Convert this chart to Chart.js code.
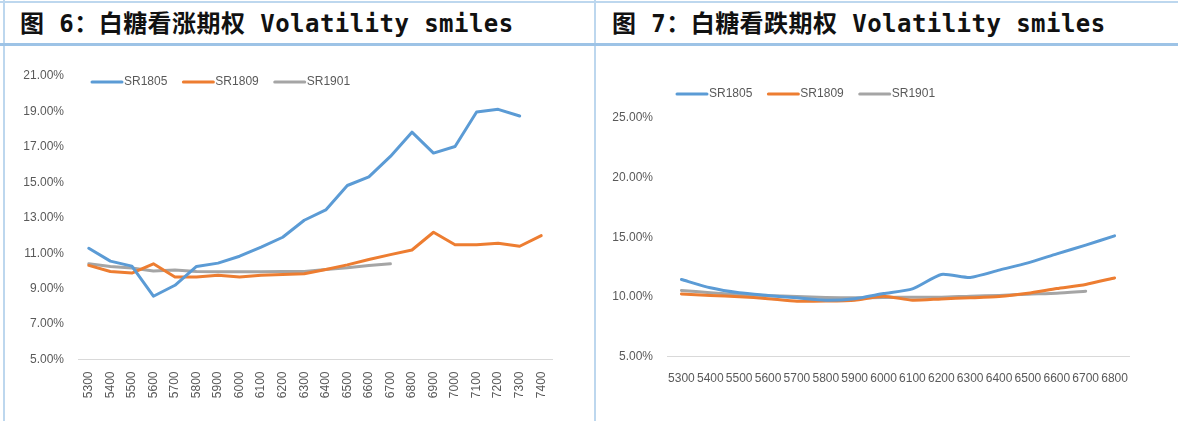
<!DOCTYPE html>
<html>
<head>
<meta charset="utf-8">
<script src="https://cdn.jsdelivr.net/npm/chart.js@4"></script>
<style>
body { margin: 0; background: #fff; }
#page { position: relative; width: 1178px; height: 421px; overflow: hidden; background: #fff; }
.ln { position: absolute; background: #bdd7ee; }
.title { position: absolute; top: 3px; height: 41px; line-height: 43px; font-family: "DejaVu Sans Mono", "Noto Sans CJK SC"; font-size: 24px; font-weight: 700; color: #111; white-space: nowrap; letter-spacing: 0.45px; }
.box { position: absolute; top: 46px; height: 375px; }
</style>
</head>
<body>
<div id="page">
  <div class="ln" style="left:0;top:1px;width:1178px;height:2px"></div>
  <div class="ln" style="left:3px;top:0;width:2px;height:421px"></div>
  <div class="ln" style="left:594px;top:0;width:2px;height:421px"></div>
  <div class="ln" style="left:0;top:43px;width:1178px;height:3px;background:#9dc3e6"></div>
  <div class="title" style="left:20px">图 6：白糖看涨期权 Volatility smiles</div>
  <div class="title" style="left:612px">图 7：白糖看跌期权 Volatility smiles</div>
  <div class="box" style="left:5px;width:589px"><canvas id="callChart"></canvas></div>
  <div class="box" style="left:596px;width:582px"><canvas id="putChart"></canvas></div>
</div>
<script>
// series names
var seriesNames = ['SR1805', 'SR1809', 'SR1901'];
var seriesColors = ['#5b9bd5', '#ed7d31', '#a5a5a5'];

// 图6 call options, implied vol in %
var callStrikes = ['5300','5400','5500','5600','5700','5800','5900','6000','6100','6200','6300',
                   '6400','6500','6600','6700','6800','6900','7000','7100','7200','7300','7400'];
var callSR1805 = [11.28, 10.55, 10.27, 8.57, 9.19, 10.25, 10.44, 10.83, 11.34, 11.90, 12.86,
                  13.44, 14.82, 15.31, 16.46, 17.83, 16.65, 17.02, 18.97, 19.12, 18.74, null];
var callSR1809 = [10.31, 9.97, 9.88, 10.40, 9.66, 9.66, 9.75, 9.66, 9.75, 9.80, 9.84,
                  10.08, 10.34, 10.64, 10.92, 11.18, 12.18, 11.48, 11.48, 11.56, 11.39, 11.99];
var callSR1901 = [10.40, 10.25, 10.16, 9.99, 10.05, 9.97, 9.95, 9.95, 9.95, 9.97, 9.97,
                  10.08, 10.18, 10.31, 10.40, null, null, null, null, null, null, null];
var callTicks = { min: 5, max: 21, step: 2 };

// 图7 put options
var putStrikes = ['5300','5400','5500','5600','5700','5800','5900','6000',
                  '6100','6200','6300','6400','6500','6600','6700','6800'];
var putSR1805 = [11.46, 10.76, 10.34, 10.12, 9.92, 9.72, 9.85, 10.28,
                 10.67, 11.88, 11.63, 12.24, 12.85, 13.61, 14.34, 15.12];
var putSR1809 = [10.25, 10.12, 10.02, 9.85, 9.64, 9.65, 9.72, 10.05,
                 9.72, 9.83, 9.92, 10.03, 10.31, 10.70, 11.04, 11.59];
var putSR1901 = [10.54, 10.35, 10.20, 10.10, 10.03, 9.95, 9.92, 9.95,
                 9.97, 9.97, 10.06, 10.12, 10.23, 10.31, 10.48, null];
var putTicks = { min: 5, max: 25, step: 5 };

var FONT = '"Liberation Sans", Arial, sans-serif';

// legend drawn as short lines like the excel one
var lineLegend = {
  id: 'lineLegend',
  afterDraw: function(chart, args, opts) {
    var ctx = chart.ctx;
    var x = opts.x, y = opts.y;
    ctx.save();
    ctx.font = '12px ' + FONT;
    ctx.textBaseline = 'middle';
    chart.data.datasets.forEach(function(ds) {
      ctx.strokeStyle = ds.borderColor;
      ctx.lineWidth = 3;
      ctx.lineCap = 'round';
      ctx.beginPath();
      ctx.moveTo(x, y);
      ctx.lineTo(x + 30, y);
      ctx.stroke();
      ctx.fillStyle = '#595959';
      ctx.fillText(ds.label, x + 32, y);
      x += 32 + ctx.measureText(ds.label).width + 16;
    });
    ctx.restore();
  }
};

function makeChart(id, labels, values, yt, box) {
  var datasets = values.map(function(v, i) {
    return {
      label: seriesNames[i],
      data: v,
      borderColor: seriesColors[i],
      backgroundColor: seriesColors[i],
      borderWidth: 3,
      pointRadius: 0,
      tension: box.tension,
      borderCapStyle: 'round',
      borderJoinStyle: 'round',
      spanGaps: false
    };
  });
  return new Chart(document.getElementById(id), {
    type: 'line',
    data: { labels: labels, datasets: datasets },
    plugins: [lineLegend],
    options: {
      responsive: true,
      maintainAspectRatio: false,
      animation: false,
      layout: { padding: { top: box.top, right: box.right, left: 0, bottom: 0 } },
      plugins: {
        legend: { display: false },
        tooltip: { enabled: false },
        lineLegend: { x: box.legendX, y: box.legendY }
      },
      scales: {
        x: {
          offset: true,
          grid: { display: false, drawTicks: false },
          border: { display: true, color: '#d9d9d9', width: 1 },
          ticks: {
            color: '#595959',
            font: { family: FONT, size: 12 },
            autoSkip: false,
            minRotation: box.rot,
            maxRotation: box.rot,
            padding: box.xPad
          },
          afterFit: function(s) { s.height = box.xHeight; }
        },
        y: {
          min: yt.min,
          max: yt.max,
          grid: { display: false, drawTicks: false },
          border: { display: false },
          ticks: {
            stepSize: yt.step,
            color: '#595959',
            font: { family: FONT, size: 12 },
            padding: 14,
            callback: function(v) { return v.toFixed(2) + '%'; }
          },
          afterFit: function(s) { s.width = box.yWidth; }
        }
      }
    }
  });
}

makeChart('callChart', callStrikes, [callSR1805, callSR1809, callSR1901], callTicks,
  { top: 30, right: 42, yWidth: 73, xHeight: 61.5, rot: 90, xPad: 12, tension: 0, legendX: 87, legendY: 36 });
makeChart('putChart', putStrikes, [putSR1805, putSR1809, putSR1901], putTicks,
  { top: 72, right: 49, yWidth: 71, xHeight: 64.5, rot: 0, xPad: 15, tension: 0.2, legendX: 81, legendY: 48 });
</script>
</body>
</html>
